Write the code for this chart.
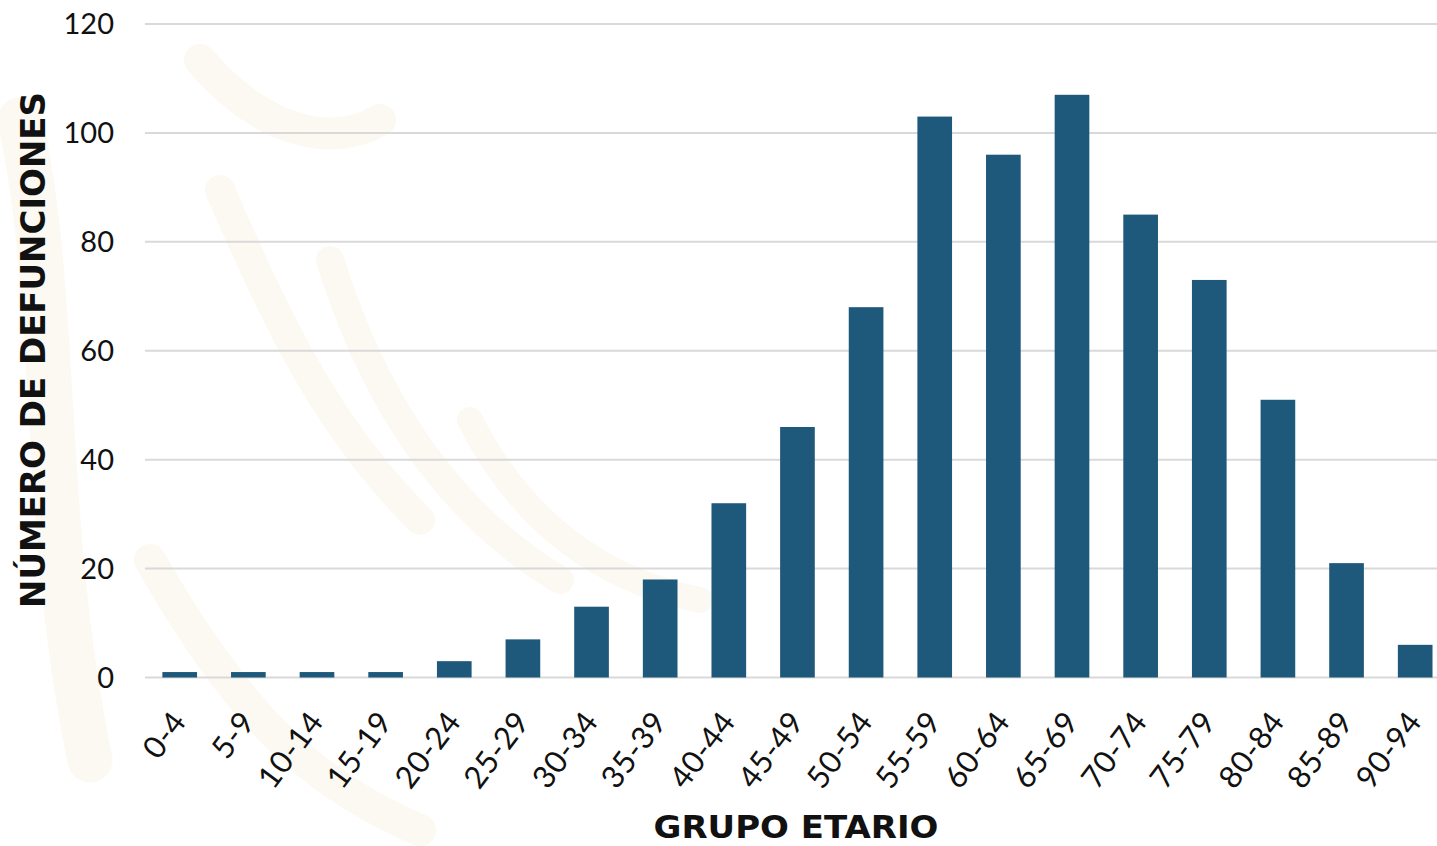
<!DOCTYPE html>
<html>
<head>
<meta charset="utf-8">
<script src="https://cdn.jsdelivr.net/npm/d3@7"></script>
<style>
  body { margin: 0; background: #fff; }
  svg { display: block; }
</style>
</head>
<body>
<script>
var width = 1437,
  height = 846;

// grupos de edad y defunciones
var grupos = ["0-4", "5-9", "10-14", "15-19", "20-24", "25-29", "30-34", "35-39",
  "40-44", "45-49", "50-54", "55-59", "60-64", "65-69", "70-74", "75-79",
  "80-84", "85-89", "90-94"];
var defunciones = [1, 1, 1, 1, 3, 7, 13, 18, 32, 46, 68, 103, 96, 107, 85, 73, 51, 21, 6];
var yTicks = [0, 20, 40, 60, 80, 100, 120];

var svg = d3
  .select("body")
  .append("svg")
  .attr("width", width)
  .attr("height", height);

// marca de agua tenue de fondo
var wm = svg.append("g").attr("fill", "none").attr("stroke", "#fcf9f3").attr("stroke-linecap", "round");
wm.append("path").attr("d", "M20,120 C60,300 40,520 90,760").attr("stroke-width", 45);
wm.append("path").attr("d", "M200,60 C260,130 330,150 380,120").attr("stroke-width", 32);
wm.append("path").attr("d", "M220,190 C280,330 330,430 420,520").attr("stroke-width", 30);
wm.append("path").attr("d", "M330,260 C380,420 460,520 560,580").attr("stroke-width", 28);
wm.append("path").attr("d", "M470,420 C520,520 600,580 700,600").attr("stroke-width", 26);
wm.append("path").attr("d", "M150,560 C230,700 300,780 420,830").attr("stroke-width", 32);

var x = d3
  .scaleBand()
  .domain(grupos)
  .range([145.4, 1449.5])
  .paddingInner(0.495)
  .paddingOuter(0.2475);

var y = d3
  .scaleLinear()
  .domain([0, 120])
  .range([677.5, 24]);

// lineas de cuadricula
svg
  .append("g")
  .selectAll("line")
  .data(yTicks)
  .join("line")
  .attr("x1", 145)
  .attr("x2", width)
  .attr("y1", d => y(d))
  .attr("y2", d => y(d))
  .attr("stroke", "#d9d9d9")
  .attr("stroke-width", 2);

svg
  .append("g")
  .selectAll("text")
  .data(yTicks)
  .join("text")
  .attr("x", 114)
  .attr("y", d => y(d))
  .attr("dy", "0.36em")
  .attr("text-anchor", "end")
  .attr("font-family", "Lato, 'DejaVu Sans', sans-serif")
  .attr("font-size", 29)
  .attr("fill", "#111")
  .text(d => d);

svg
  .append("g")
  .selectAll("rect")
  .data(defunciones)
  .join("rect")
  .attr("x", (d, i) => x(grupos[i]))
  .attr("width", x.bandwidth())
  .attr("y", d => y(d))
  .attr("height", d => y(0) - y(d))
  .attr("fill", "#1e587b");

// etiquetas del eje x
svg
  .append("g")
  .selectAll("text")
  .data(grupos)
  .join("text")
  .attr("transform", d => "translate(" + (x(d) + x.bandwidth() / 2 + 8) + ",722) rotate(-53)")
  .attr("text-anchor", "end")
  .attr("font-family", "Lato, 'DejaVu Sans', sans-serif")
  .attr("font-size", 31)
  .attr("letter-spacing", 0.5)
  .attr("fill", "#111")
  .text(d => d);

svg
  .append("text")
  .attr("x", 796)
  .attr("y", 838)
  .attr("text-anchor", "middle")
  .attr("font-family", "'DejaVu Sans', sans-serif")
  .attr("font-weight", "bold")
  .attr("font-size", 32)
  .attr("textLength", 285)
  .attr("lengthAdjust", "spacingAndGlyphs")
  .attr("fill", "#111")
  .text("GRUPO ETARIO");

svg
  .append("text")
  .attr("transform", "translate(45,350) rotate(-90)")
  .attr("text-anchor", "middle")
  .attr("font-family", "'DejaVu Sans', sans-serif")
  .attr("font-weight", "bold")
  .attr("font-size", 33)
  .attr("textLength", 516)
  .attr("lengthAdjust", "spacingAndGlyphs")
  .attr("fill", "#111")
  .text("NÚMERO DE DEFUNCIONES");
</script>
</body>
</html>
